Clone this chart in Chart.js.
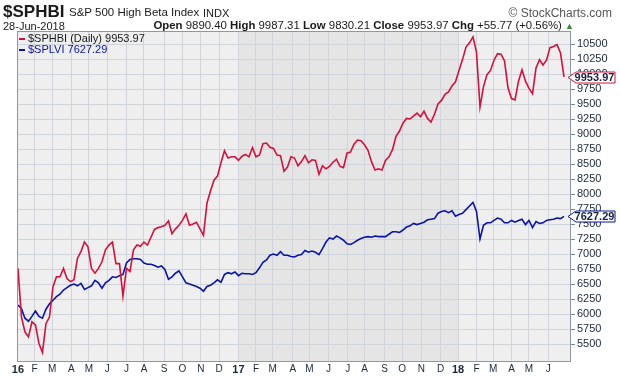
<!DOCTYPE html>
<html>
<head>
<meta charset="utf-8">
<script src="https://cdn.jsdelivr.net/npm/chart.js@4.4.1/dist/chart.umd.min.js"></script>
<style>
  body { margin: 0; background: #fff; font-family: "Liberation Sans", Arial, sans-serif; }
  #wrap { position: relative; width: 620px; height: 376px; }
  #wrap canvas { position: absolute; left: 0; top: 0; }
  .txt { position: absolute; white-space: nowrap; color: #1a1a1a; line-height: 1; }
  .title { left: 3px; top: 3px; font-size: 17px; font-weight: bold; }
  .name { left: 69px; top: 7px; font-size: 11.5px; }
  .exch { left: 203px; top: 8px; font-size: 11px; }
  .copy { right: 8px; top: 7px; font-size: 12px; color: #555; }
  .date { left: 3px; top: 21px; font-size: 11px; }
  .quote { right: 46px; top: 20px; font-size: 11.4px; }
  .quote b { font-weight: bold; }
  .up { color: #2e8b2e; font-size: 9px; }
  .leg { left: 19px; font-size: 11px; }
  .leg i { display: inline-block; width: 6px; height: 2px; margin-right: 3px; vertical-align: middle; }
</style>
</head>
<body>
<div id="wrap">
  <canvas id="chart" width="620" height="376"></canvas>
  <div class="txt title">$SPHBI</div>
  <div class="txt name">S&amp;P 500 High Beta Index</div>
  <div class="txt exch">INDX</div>
  <div class="txt copy">© StockCharts.com</div>
  <div class="txt date">28-Jun-2018</div>
  <div class="txt quote"><b>Open</b> 9890.40 <b>High</b> 9987.31 <b>Low</b> 9830.21 <b>Close</b> 9953.97 <b>Chg</b> +55.77 (+0.56%) <span class="up">▲</span></div>
  <div class="txt leg" style="top:33px;"><i style="background:#d6103c"></i>$SPHBI (Daily) 9953.97</div>
  <div class="txt leg" style="top:44px; color:#0a14a8;"><i style="background:#0a14a8"></i>$SPLVI 7627.29</div>
</div>
<script>
// closing values, one sample every 4 trading days from 4-Jan-2016 to 28-Jun-2018
const sphbi = [
  6760, 5950, 5700, 5620, 5870, 5820, 5510, 5360, 5840, 5950,
  6450, 6620, 6620, 6760, 6590, 6540, 6570, 6930, 7040, 7200,
  7120, 6760, 6680, 6760, 6870, 7070, 7150, 7200, 6840, 6840,
  6300, 6760, 6710, 7070, 7150, 7130, 7200, 7150, 7280, 7410,
  7440, 7455, 7480, 7550, 7340, 7420, 7480, 7560, 7670, 7480,
  7500, 7530, 7420, 7310, 7850, 8050, 8230, 8300, 8520, 8720,
  8600, 8620, 8620, 8560, 8630, 8660, 8620, 8770, 8620, 8650,
  8840, 8850, 8780, 8760, 8650, 8640, 8380, 8450, 8620, 8600,
  8470, 8540, 8640, 8520, 8570, 8560, 8330, 8470, 8420, 8460,
  8530, 8580, 8460, 8440, 8680, 8700, 8830, 8900, 8890, 8820,
  8730, 8540, 8400, 8420, 8400, 8560, 8620, 8740, 8960, 9050,
  9180, 9260, 9250, 9300, 9350, 9290, 9380, 9260, 9200, 9330,
  9500, 9560, 9660, 9700, 9800, 9870, 10060, 10240, 10450, 10520,
  10620, 10360, 9450, 9790, 9990, 10060, 10230, 10340, 10330, 10220,
  9770, 9590, 9570, 9880, 10070, 9880, 9760, 9670, 10100, 10240,
  10150, 10230, 10440, 10460, 10490, 10350, 9953.97
];
const splvi = [
  6150, 6090, 5930, 5880, 5960, 6050, 5960, 5930, 6080, 6170,
  6230, 6290, 6330, 6400, 6440, 6480, 6500, 6470, 6510, 6410,
  6440, 6470, 6560, 6520, 6430, 6520, 6560, 6620, 6610, 6640,
  6660, 6850, 6910, 6920, 6920, 6910, 6850, 6830, 6830, 6810,
  6780, 6800, 6740, 6580, 6620, 6680, 6720, 6620, 6520, 6500,
  6480, 6460, 6430, 6380, 6460, 6480, 6520, 6570, 6530, 6660,
  6690, 6670, 6700, 6640, 6680, 6670, 6670, 6660, 6690, 6770,
  6860, 6900, 6980, 7000, 6980, 7040, 6980, 6980, 6960, 6950,
  6980, 6990, 7060, 7030, 7050, 7030, 6990, 7090, 7200, 7270,
  7250, 7300, 7270, 7230, 7170, 7160, 7190, 7230, 7260, 7280,
  7290, 7280, 7300, 7290, 7290, 7290, 7330, 7370, 7370, 7360,
  7400, 7450, 7470, 7510, 7490, 7510, 7530, 7570, 7580, 7590,
  7680, 7710, 7720, 7690, 7720, 7630, 7660, 7680, 7740, 7800,
  7860, 7710, 7250, 7480, 7520, 7520, 7560, 7600, 7580, 7520,
  7520, 7560, 7530, 7560, 7580, 7490, 7560, 7440, 7540, 7510,
  7520, 7560, 7570, 7580, 7600, 7590, 7627.29
];
const SAMPLE_STEP = 4; // trading days between samples
const tradingDay = sphbi.map((v, i) => i * SAMPLE_STEP);

// first trading day of each month, counted from 4-Jan-2016
const monthStart = [0, 19, 39, 61, 81, 102, 124, 144, 167, 188, 209, 230,
  252, 272, 291, 314, 333, 355, 377, 396, 419, 439, 461, 483,
  503, 524, 543, 564, 584, 606];
const monthLabels = ['16', 'F', 'M', 'A', 'M', 'J', 'J', 'A', 'S', 'O', 'N', 'D',
  '17', 'F', 'M', 'A', 'M', 'J', 'J', 'A', 'S', 'O', 'N', 'D',
  '18', 'F', 'M', 'A', 'M', 'J'];
const priceTicks = [5500, 5750, 6000, 6250, 6500, 6750, 7000, 7250, 7500, 7750, 8000,
  8250, 8500, 8750, 9000, 9250, 9500, 9750, 10000, 10250, 10500];
const shadedYear = [252, 503]; // 2017

const RED = '#d6103c';
const BLUE = '#0a14a8';

const backdrop = {
  id: 'backdrop',
  beforeDraw(chart) {
    const {ctx, chartArea: a, scales: {x}} = chart;
    ctx.save();
    ctx.fillStyle = '#efefef';
    ctx.fillRect(a.left, a.top, a.width, a.height);
    ctx.fillStyle = '#e5e5e5';
    const x0 = x.getPixelForValue(shadedYear[0]);
    const x1 = x.getPixelForValue(shadedYear[1]);
    ctx.fillRect(x0, a.top, x1 - x0, a.height);
    ctx.restore();
  },
  afterDraw(chart) {
    const {ctx, chartArea: a, scales: {y}} = chart;
    ctx.save();
    ctx.strokeStyle = '#8c98a6';
    ctx.lineWidth = 1;
    ctx.strokeRect(a.left + 0.5, a.top + 0.5, a.width - 1, a.height);
    // last value tags
    chart.data.datasets.forEach(ds => {
      const last = ds.data[ds.data.length - 1];
      const py = Math.round(y.getPixelForValue(last)) + 0.5;
      const tip = a.right - 3, bx = a.right + 5, bw = 39, h = 11;
      ctx.beginPath();
      ctx.moveTo(tip, py);
      ctx.lineTo(bx, py - h / 2);
      ctx.lineTo(bx + bw, py - h / 2);
      ctx.lineTo(bx + bw, py + h / 2);
      ctx.lineTo(bx, py + h / 2);
      ctx.closePath();
      ctx.fillStyle = '#fff';
      ctx.fill();
      ctx.strokeStyle = ds.borderColor;
      ctx.lineWidth = 1;
      ctx.stroke();
      ctx.fillStyle = '#13233f';
      ctx.font = 'bold 11px "Liberation Sans", Arial, sans-serif';
      ctx.textAlign = 'center';
      ctx.textBaseline = 'middle';
      ctx.fillText(last.toFixed(2), bx + bw / 2 - 1, py + 0.5);
    });
    ctx.restore();
  }
};

new Chart(document.getElementById('chart'), {
  type: 'line',
  data: {
    labels: tradingDay,
    datasets: [
      { label: '$SPHBI', data: sphbi, borderColor: RED, borderWidth: 1.6 },
      { label: '$SPLVI', data: splvi, borderColor: BLUE, borderWidth: 1.6 }
    ]
  },
  options: {
    responsive: false,
    animation: false,
    events: [],
    layout: { padding: { top: 31, left: 17, right: 0, bottom: 0 } },
    elements: { point: { radius: 0 }, line: { tension: 0 } },
    plugins: { legend: { display: false }, tooltip: { enabled: false } },
    scales: {
      x: {
        type: 'linear',
        min: -1.1,
        max: 632,
        afterBuildTicks: s => { s.ticks = monthStart.map(v => ({ value: v })); },
        afterFit: s => { s.height = 15; },
        grid: { color: '#cfd4dd', drawTicks: false },
        border: { display: false },
        ticks: {
          autoSkip: false,
          maxRotation: 0,
          padding: 2,
          color: '#1b2838',
          font: ctx => monthLabels[ctx.index] && monthLabels[ctx.index].length > 1
            ? { size: 11, weight: 'bold', family: '"Liberation Sans", Arial, sans-serif' }
            : { size: 10, family: '"Liberation Sans", Arial, sans-serif' },
          callback: (v, i) => monthLabels[i]
        }
      },
      y: {
        type: 'linear',
        position: 'right',
        min: 5217,
        max: 10717,
        afterBuildTicks: s => { s.ticks = priceTicks.map(v => ({ value: v })); },
        afterFit: s => { s.width = 49; },
        grid: { color: '#cfd4dd', tickLength: 4, tickColor: '#7d8896' },
        border: { display: false },
        ticks: {
          padding: 2,
          color: '#1b2838',
          font: { size: 11, family: '"Liberation Sans", Arial, sans-serif' },
          callback: v => v
        }
      }
    }
  },
  plugins: [backdrop]
});
</script>
</body>
</html>
